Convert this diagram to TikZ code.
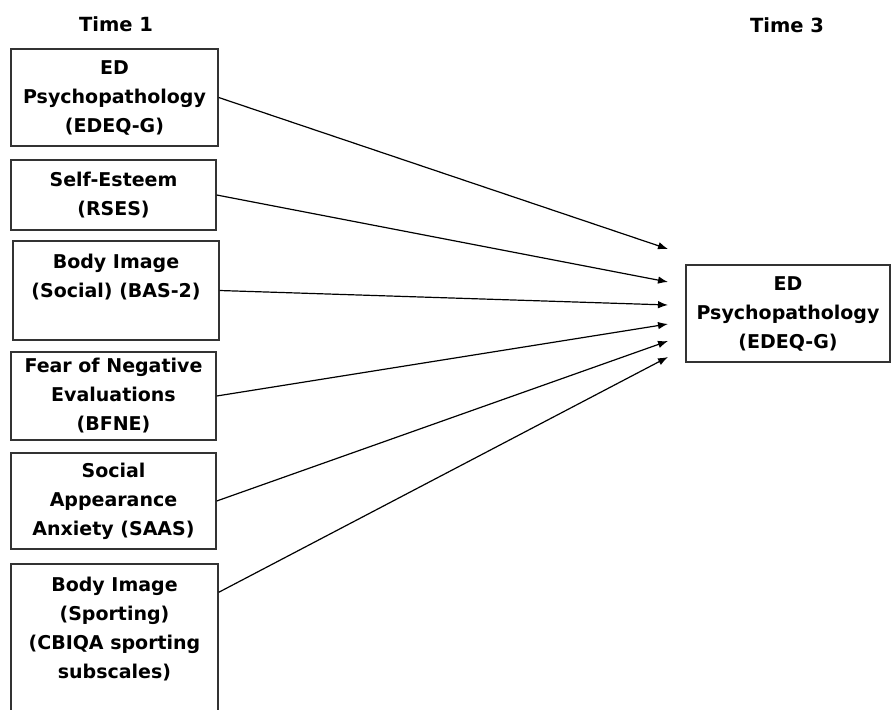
\documentclass[tikz,border=0pt]{standalone}
\usepackage{fontspec}
\setmainfont{DejaVu Sans}
\usetikzlibrary{arrows.meta}
\tikzset{
  title/.style={font=\bfseries\fontsize{19.5}{29}\selectfont},
  var/.style={draw=black!80, line width=1.4pt, align=center, inner sep=0pt,
    font=\bfseries\fontsize{19}{29}\selectfont},
}
\begin{document}
\begin{tikzpicture}[x=1pt, y=-1pt, >={Latex[length=10pt,width=7.5pt]}]
\useasboundingbox (0,0) rectangle (893,709);
\node[title] (time1) at (116,24) {Time 1};
\node[title] (time3) at (787,25) {Time 3};
% Time 1 predictors
\node[var, minimum width=207pt, minimum height=97pt] (b1) at (114.5,97.5) {ED\\Psychopathology\\(EDEQ-G)};
\node[var, minimum width=205pt, minimum height=70pt] (b2) at (113.5,195) {Self-Esteem\\(RSES)};
\node[var, minimum width=206pt, minimum height=99pt] (b3) at (116,290.5) {Body Image\\(Social) (BAS-2)\\\mbox{}};
\node[var, minimum width=205pt, minimum height=88pt] (b4) at (113.5,396) {Fear of Negative\\Evaluations\\(BFNE)};
\node[var, minimum width=205pt, minimum height=96pt] (b5) at (113.5,501) {Social\\Appearance\\Anxiety (SAAS)};
\node[var, minimum width=207pt, minimum height=156pt] (b6) at (114.5,642) {Body Image\\(Sporting)\\(CBIQA sporting\\subscales)\\\mbox{}};
% Time 3 outcome
\node[var, minimum width=204pt, minimum height=97pt] (out) at (788,313.5) {ED\\Psychopathology\\(EDEQ-G)};
% paths
\foreach \i/\y in {1/249,2/282,3/305,4/324,5/341,6/357}
  \coordinate (t\i) at (668,\y);
\coordinate (s6) at ([yshift=-29pt]b6.north east);
\foreach \i in {1,...,5}
  \draw[->, line width=1.2pt] (b\i.east) -- (t\i);
\draw[->, line width=1.2pt] (s6) -- (t6);
\end{tikzpicture}
\end{document}
